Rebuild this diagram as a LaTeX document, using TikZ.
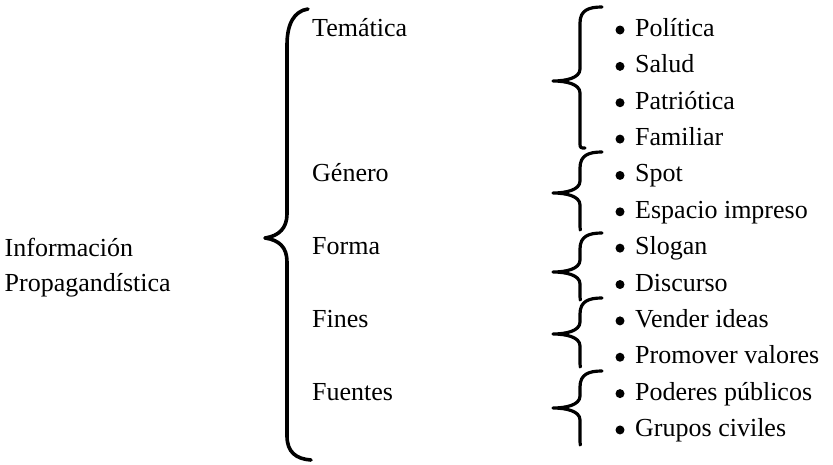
\documentclass[tikz,border=0pt]{standalone}
\usepackage{fontspec}
\setmainfont{Liberation Serif}
\begin{document}
\begin{tikzpicture}[x=1pt,y=-1pt,
  txt/.style={anchor=base west,inner sep=0pt,font=\fontsize{26}{30}\selectfont},
  bigbrace/.style={line width=3.6pt,line cap=round,line join=round},
  smallbrace/.style={line width=3.2pt,line cap=round,line join=round},
  dot/.style={circle,fill=black,inner sep=0pt,minimum size=9pt}]
\useasboundingbox (0,0) rectangle (833,464);
% left label
\node[txt] (info1) at (4.5,256) {Información};
\node[txt] (info2) at (4.5,291) {Propagandística};
% categories
\node[txt] (tem) at (312,36.5) {Temática};
\node[txt] (gen) at (312,181.9) {Género};
\node[txt] (for) at (312,254.7) {Forma};
\node[txt] (fin) at (312,327.4) {Fines};
\node[txt] (fue) at (312,400.1) {Fuentes};
% items
\foreach \t [count=\i from 0] in {Política,Salud,Patriótica,Familiar,Spot,Espacio impreso,Slogan,Discurso,Vender ideas,Promover valores,Poderes públicos,Grupos civiles}{
  \node[dot] (b\i) at (620,{30+36.36*\i}) {};
  \node[txt] (it\i) at (635,{36.5+36.36*\i}) {\t};
}
% big brace
\coordinate (bt) at (308,9);
\coordinate (bm) at (265,238);
\coordinate (bb) at (311,460);
\draw[bigbrace] (bt) .. controls (294,11) and (287,24) .. (287,45) -- (287,214)
  .. controls (287,228) and (279,236) .. (bm)
  .. controls (279,240) and (287,247) .. (287,262) -- (287,436)
  .. controls (287,452) and (296,459) .. (bb);
% small braces
\newcommand\mybr[4]{%
  \draw[smallbrace] (602,#1) .. controls (589,#1) and (580,#1+3) .. (580,#1+16) -- (580,#2-12)
    .. controls (580,#2-3) and (566,#2) .. (553,#2)
    .. controls (566,#2) and (580,#2+3) .. (580,#2+12) -- (580,#3-4) .. controls (580,#3) and (581,#3) .. (#4,#3);}
\mybr{7}{81}{148}{585}
\mybr{152}{193}{230}{580}
\mybr{233}{272}{300}{580}
\mybr{298}{334}{367}{580}
\mybr{371}{408}{445}{580}
\end{tikzpicture}
\end{document}
